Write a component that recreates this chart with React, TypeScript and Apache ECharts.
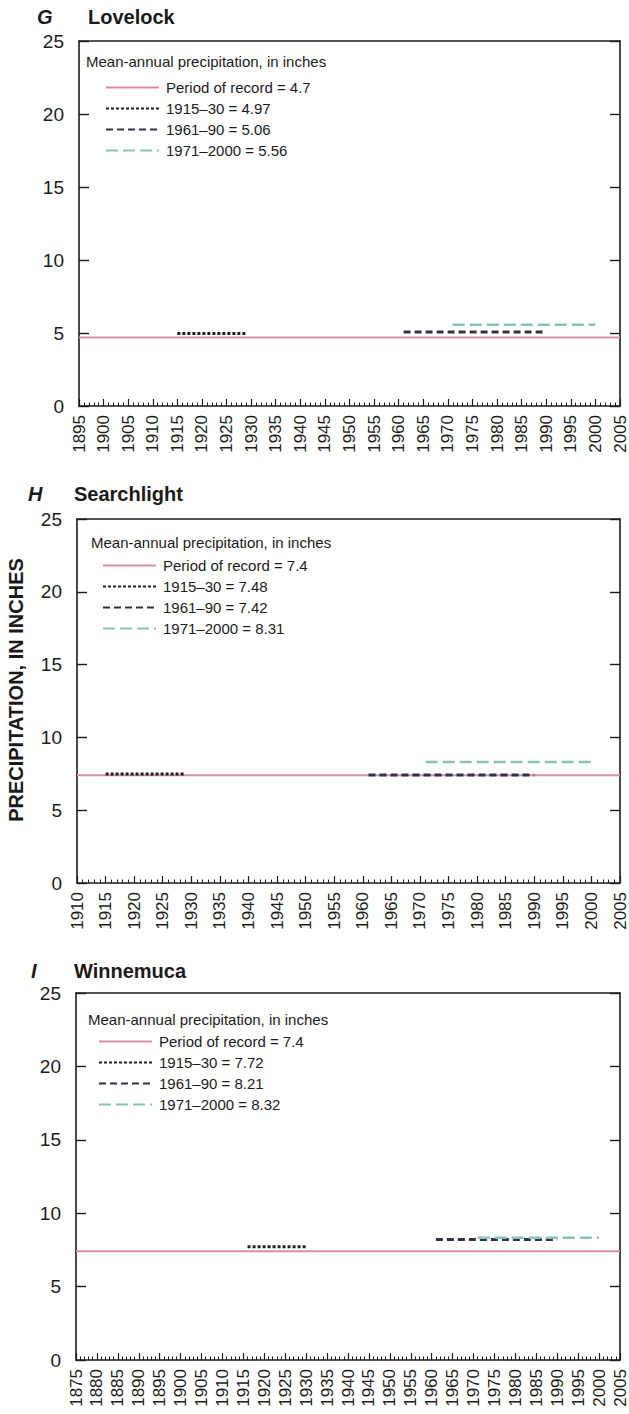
import React, { useEffect, useRef } from "react";
import * as echarts from "echarts";

// ---- Data ----
const seriesLabels = ["Period of record", "1915\u201330", "1961\u201390", "1971\u20132000"];

// Panel G: Lovelock
const gTitle = ["G", "Lovelock"];
const gYears = [1895, 2005];
const gValues = [4.7, 4.97, 5.06, 5.56];
const gSpans = [[1895, 2005], [1915, 1929], [1961, 1990], [1971, 2000]];

// Panel H: Searchlight
const hTitle = ["H", "Searchlight"];
const hYears = [1910, 2005];
const hValues = [7.4, 7.48, 7.42, 8.31];
const hSpans = [[1910, 2005], [1915, 1929], [1961, 1990], [1971, 2000]];

// Panel I: Winnemuca
const iTitle = ["I", "Winnemuca"];
const iYears = [1875, 2005];
const iValues = [7.4, 7.72, 8.21, 8.32];
const iSpans = [[1875, 2005], [1916, 1930], [1961, 1990], [1971, 2000]];

const yTicks = [0, 25, 5];
const legendHeader = "Mean-annual precipitation, in inches";
const yAxisTitle = "PRECIPITATION, IN INCHES";

const FONT = "'Liberation Sans', Arial, Helvetica, sans-serif";
const INK = "#1c1c1c";

const lineStyles = [
  { color: "#d98ea3", width: 2, type: "solid" },
  { color: "#1f1f1f", width: 3, type: [3, 2] },
  { color: "#2e3346", width: 3, type: [7, 4] },
  { color: "#86c3b9", width: 2.5, type: [12, 5] },
];

const panels = [
  { title: gTitle, years: gYears, values: gValues, spans: gSpans,
    grid: { left: 79, top: 41, width: 541, height: 365 },
    titleY: 18, letterX: 45, nameX: 88, headerX: 86, headerY: 62, legendLeft: 105, legendTop: 80 },
  { title: hTitle, years: hYears, values: hValues, spans: hSpans,
    grid: { left: 77, top: 519, width: 543, height: 364 },
    titleY: 495, letterX: 36, nameX: 74, headerX: 91, headerY: 543, legendLeft: 102, legendTop: 558 },
  { title: iTitle, years: iYears, values: iValues, spans: iSpans,
    grid: { left: 76, top: 993, width: 544, height: 367 },
    titleY: 972, letterX: 39, nameX: 74, headerX: 88, headerY: 1020, legendLeft: 98, legendTop: 1034 },
];

function buildOption() {
  const grid: any[] = [];
  const xAxis: any[] = [];
  const yAxis: any[] = [];
  const series: any[] = [];
  const legend: any[] = [];
  const graphic: any[] = [];

  const axisLine = { show: true, onZero: false, lineStyle: { color: INK, width: 1.6 } };

  panels.forEach((p, gi) => {
    grid.push({ ...p.grid, containLabel: false, outerBoundsMode: "none" });

    // bottom x axis with labels
    xAxis.push({
      gridIndex: gi, type: "value", position: "bottom",
      min: p.years[0], max: p.years[1], interval: 5,
      axisLine,
      axisTick: { show: true, inside: true, length: 7, lineStyle: { color: INK, width: 1.2 } },
      minorTick: { show: true, splitNumber: 5, length: 3.5, lineStyle: { color: INK, width: 1 } },
      splitLine: { show: false },
      axisLabel: {
        rotate: 90, fontSize: 17, lineHeight: 16, color: INK, fontFamily: FONT, margin: 9,
        formatter: (v: number) => String(v),
      },
    });
    // top frame
    xAxis.push({
      gridIndex: gi, type: "value", position: "top",
      min: p.years[0], max: p.years[1], interval: 5,
      axisLine, axisTick: { show: false }, axisLabel: { show: false }, splitLine: { show: false },
    });
    // left y axis
    yAxis.push({
      gridIndex: gi, type: "value", position: "left",
      min: yTicks[0], max: yTicks[1], interval: yTicks[2],
      axisLine,
      axisTick: { show: true, inside: true, length: 10, lineStyle: { color: INK, width: 1.4 } },
      splitLine: { show: false },
      axisLabel: { fontSize: 19, color: INK, fontFamily: FONT, margin: 15 },
    });
    // right frame
    yAxis.push({
      gridIndex: gi, type: "value", position: "right",
      min: yTicks[0], max: yTicks[1], interval: yTicks[2],
      axisLine,
      axisTick: { show: true, inside: true, length: 10, lineStyle: { color: INK, width: 1.4 } },
      splitLine: { show: false },
      axisLabel: { show: false },
    });

    const names: string[] = [];
    p.values.forEach((v, si) => {
      const name = `${seriesLabels[si]} = ${v}`;
      names.push(name);
      series.push({
        type: "line",
        name,
        xAxisIndex: gi * 2,
        yAxisIndex: gi * 2,
        data: [[p.spans[si][0], v], [p.spans[si][1], v]],
        symbol: "none",
        lineStyle: { ...lineStyles[si], cap: "butt" },
        itemStyle: { color: lineStyles[si].color },
        z: 2 + si,
        silent: true,
      });
    });

    legend.push({
      data: names.map((n) => ({ name: n })),
      orient: "vertical",
      left: p.legendLeft,
      top: p.legendTop,
      itemWidth: 53,
      itemHeight: 14,
      itemGap: 6,
      padding: 0,
      selectedMode: false,
      itemStyle: { opacity: 0 },
      textStyle: { fontSize: 15, color: INK, fontFamily: FONT, padding: [0, 0, 0, 2] },
    });

    graphic.push(
      {
        type: "text", left: p.letterX - 8, top: p.titleY - 11,
        style: { text: p.title[0], font: `italic bold 20px ${FONT}`, fill: "#1a1a1a" },
      },
      {
        type: "text", left: p.nameX, top: p.titleY - 11,
        style: { text: p.title[1], font: `bold 20px ${FONT}`, fill: "#1a1a1a" },
      },
      {
        type: "text", left: p.headerX, top: p.headerY - 8,
        style: { text: legendHeader, font: `15px ${FONT}`, fill: INK },
      }
    );
  });

  graphic.push({
    type: "text",
    x: 16,
    y: 690,
    rotation: Math.PI / 2,
    style: {
      text: yAxisTitle,
      font: `bold 20px ${FONT}`,
      fill: "#1a1a1a",
      align: "center",
      verticalAlign: "middle",
    },
  });

  return {
    animation: false,
    backgroundColor: "#ffffff",
    grid,
    xAxis,
    yAxis,
    series,
    legend,
    graphic,
  };
}

export default function App() {
  const ref = useRef<HTMLDivElement | null>(null);
  useEffect(() => {
    if (!ref.current) return;
    const chart = echarts.init(ref.current, undefined, { renderer: "svg" });
    chart.setOption(buildOption() as any);
    return () => chart.dispose();
  }, []);
  return (
    <div
      ref={ref}
      style={{ position: "absolute", left: 0, top: 0, width: 629, height: 1414, background: "#fff" }}
    />
  );
}
